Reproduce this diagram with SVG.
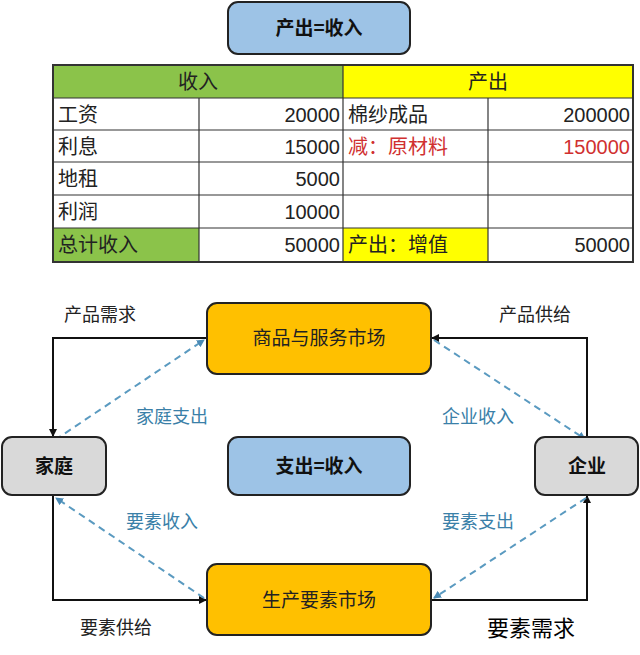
<svg xmlns="http://www.w3.org/2000/svg" width="640" height="655" viewBox="0 0 640 655">
<style>
text{font-family:"Noto Sans CJK SC","Liberation Sans",sans-serif}
.t{font-size:20px;fill:#222}
.n{font-size:20px;fill:#222;text-anchor:end;font-family:"Liberation Sans",sans-serif}
.r{fill:#d03030}
.b{font-size:19px;font-weight:bold;fill:#111;text-anchor:middle}
.m{font-size:19px;fill:#222;text-anchor:middle}
.lb{font-size:18px;fill:#3a80a8;text-anchor:middle}
.lk{font-size:18px;fill:#222;text-anchor:middle}
.solid{stroke:#111;stroke-width:2;fill:none;marker-end:url(#ak)}
.dash{stroke:#5a9ac0;stroke-width:2;stroke-dasharray:7,5;fill:none;marker-end:url(#ab)}
.grid line{stroke:#333;stroke-width:1.2}
</style>
<defs>
<marker id="ak" markerWidth="8" markerHeight="8" refX="7" refY="4" orient="auto" markerUnits="userSpaceOnUse"><path d="M0,0 L8,4 L0,8 z" fill="#111"/></marker>
<marker id="ab" markerWidth="8" markerHeight="8" refX="7" refY="4" orient="auto" markerUnits="userSpaceOnUse"><path d="M0,0 L8,4 L0,8 z" fill="#4a8ab5"/></marker>
</defs>
<rect width="640" height="655" fill="#fff"/>
<g id="title"><rect x="228" y="2" width="182" height="52" rx="10" fill="#9dc3e6" stroke="#222" stroke-width="2"/><text x="319" y="35" class="b">产出=收入</text></g>
<g id="table">
<rect x="53" y="65" width="290" height="33" fill="#8bc34a"/>
<rect x="343" y="65" width="290" height="33" fill="#ffff00"/>
<rect x="53" y="228" width="146" height="34" fill="#8bc34a"/>
<rect x="343" y="228" width="145" height="34" fill="#ffff00"/>
<rect x="53" y="65" width="580" height="197" fill="none" stroke="#333" stroke-width="2"/>
<g class="grid">
<line x1="53" y1="98" x2="633" y2="98"/><line x1="53" y1="130" x2="633" y2="130"/><line x1="53" y1="162" x2="633" y2="162"/><line x1="53" y1="195" x2="633" y2="195"/><line x1="53" y1="228" x2="633" y2="228"/>
<line x1="199" y1="98" x2="199" y2="262"/><line x1="343" y1="65" x2="343" y2="262"/><line x1="488" y1="98" x2="488" y2="262"/>
</g>
<text x="198" y="89" class="t" text-anchor="middle">收入</text>
<text x="488" y="89" class="t" text-anchor="middle">产出</text>
<text x="58" y="122" class="t">工资</text><text x="340" y="122" class="n">20000</text><text x="348" y="122" class="t">棉纱成品</text><text x="630" y="122" class="n">200000</text>
<text x="58" y="154" class="t">利息</text><text x="340" y="154" class="n">15000</text><text x="348" y="154" class="t r">减：原材料</text><text x="630" y="154" class="n r">150000</text>
<text x="58" y="186" class="t">地租</text><text x="340" y="186" class="n">5000</text>
<text x="58" y="219" class="t">利润</text><text x="340" y="219" class="n">10000</text>
<text x="58" y="252" class="t">总计收入</text><text x="340" y="252" class="n">50000</text><text x="348" y="252" class="t">产出：增值</text><text x="630" y="252" class="n">50000</text>
</g>
<g id="connectors">
<polyline class="solid" points="207,338 53,338 53,436"/>
<polyline class="solid" points="53,496 53,600 206,600"/>
<polyline class="solid" points="587,437 587,338 432,338"/>
<polyline class="solid" points="432,600 587,600 587,496"/>
<line class="dash" x1="55" y1="440" x2="204" y2="340"/>
<line class="dash" x1="434" y1="340" x2="585" y2="439"/>
<line class="dash" x1="204" y1="598" x2="56" y2="498"/>
<line class="dash" x1="586" y1="498" x2="434" y2="598"/>
</g>
<g id="goods"><rect x="207" y="303" width="224" height="71" rx="10" fill="#ffc000" stroke="#222" stroke-width="2"/><text x="319" y="345" class="m">商品与服务市场</text></g>
<g id="factor"><rect x="207" y="564" width="224" height="71" rx="10" fill="#ffc000" stroke="#222" stroke-width="2"/><text x="319" y="607" class="m">生产要素市场</text></g>
<g id="household"><rect x="2" y="437" width="104" height="58" rx="10" fill="#d9d9d9" stroke="#222" stroke-width="2"/><text x="54" y="473" class="b">家庭</text></g>
<g id="firm"><rect x="535" y="437" width="103" height="58" rx="10" fill="#d9d9d9" stroke="#222" stroke-width="2"/><text x="587" y="473" class="b">企业</text></g>
<g id="center"><rect x="228" y="437" width="182" height="58" rx="10" fill="#9dc3e6" stroke="#222" stroke-width="2"/><text x="319" y="473" class="b">支出=收入</text></g>
<g id="labels">
<text x="100" y="321" class="lk">产品需求</text>
<text x="535" y="321" class="lk">产品供给</text>
<text x="172" y="423" class="lb">家庭支出</text>
<text x="478" y="423" class="lb">企业收入</text>
<text x="162" y="528" class="lb">要素收入</text>
<text x="478" y="528" class="lb">要素支出</text>
<text x="116" y="634" class="lk">要素供给</text>
<text x="531" y="636" class="lk" style="font-size:22px;fill:#000">要素需求</text>
</g>
</svg>
